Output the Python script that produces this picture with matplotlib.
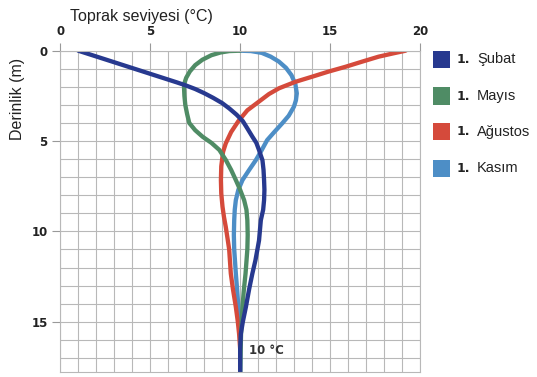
import matplotlib
matplotlib.use("Agg")
import matplotlib.pyplot as plt
from matplotlib.patches import Rectangle

plt.rcParams["font.family"] = ["Liberation Sans", "DejaVu Sans"]

# derinlik (m) ve sicaklik (C) -- resimden okunan noktalar
subat_t = [1.0, 1.5, 2.0, 2.5, 3.0, 3.5, 4.0, 4.5, 5.0, 5.5, 6.0, 6.5, 7.0, 7.5, 8.0, 8.5, 9.0, 9.4, 9.8,
           10.15, 10.4, 10.68, 10.9, 11.05, 11.15, 11.24, 11.3, 11.33, 11.35, 11.33, 11.28, 11.15, 11.05,
           10.96, 10.85, 10.68, 10.5, 10.32, 10.15, 10.04, 10.0, 10.0]
subat_d = [0.0, 0.16, 0.32, 0.48, 0.64, 0.8, 0.96, 1.12, 1.28, 1.44, 1.6, 1.76, 1.93, 2.12, 2.35, 2.61, 2.9, 3.2, 3.54,
           3.9, 4.3, 4.76, 5.1, 5.5, 5.8, 6.06, 6.6, 7.16, 7.7, 8.27, 8.8, 9.38, 10.5,
           11.0, 11.6, 12.33, 13.2, 14.18, 15.0, 15.66, 16.5, 17.9]

mayis_t = [10.0, 9.4, 8.9, 8.4, 7.9, 7.5, 7.2, 7.0, 6.9, 6.88, 6.9, 6.95, 7.05, 7.17, 7.5, 7.91,
           8.4, 8.84, 9.21, 9.5, 9.76, 10.0, 10.22, 10.35, 10.4, 10.42, 10.4, 10.3, 10.2, 10.13,
           10.05, 10.0]
mayis_d = [0.0, 0.02, 0.1, 0.25, 0.5, 0.8, 1.15, 1.5, 1.8, 2.07, 2.5, 3.0, 3.5, 4.0, 4.4, 4.76,
           5.1, 5.49, 6.06, 6.6, 7.16, 7.7, 8.27, 8.8, 9.38, 10.2, 11.0, 12.33, 13.3, 14.18,
           15.66, 17.9]

agustos_t = [19.2, 18.5, 17.7, 16.8, 15.86, 14.9, 14.0, 13.08, 12.16, 11.6, 11.0, 10.4, 9.9, 9.5, 9.2, 9.05,
             8.95, 8.93, 8.95, 9.02, 9.1, 9.2, 9.3, 9.39, 9.48, 9.6, 9.76, 9.87, 9.94, 10.0]
agustos_d = [0.0, 0.15, 0.33, 0.6, 0.89, 1.16, 1.44, 1.72, 2.08, 2.4, 2.85, 3.3, 3.9, 4.5, 5.13, 5.6,
             6.4, 7.16, 7.9, 8.64, 9.2, 9.75, 10.4, 11.0, 12.33, 13.2, 14.18, 15.0, 15.66, 16.5]

kasim_t = [10.0, 10.6, 11.2, 11.7, 12.15, 12.55, 12.85, 13.07, 13.15, 13.1, 12.99, 12.7, 12.34, 11.9, 11.5,
           11.2, 10.87, 10.5, 10.13, 9.9, 9.76, 9.7, 9.67, 9.65, 9.67, 9.76, 9.83, 9.9, 10.0, 10.0]
kasim_d = [0.0, 0.02, 0.12, 0.33, 0.6, 0.95, 1.35, 1.85, 2.36, 2.75, 3.1, 3.6, 4.02, 4.5, 4.95,
           5.5, 6.06, 6.6, 7.16, 7.7, 8.27, 8.8, 9.38, 10.2, 11.0, 12.33, 13.2, 14.18, 15.66, 17.9]

aylar = ["Şubat", "Mayıs", "Ağustos", "Kasım"]
renkler = ["#27398f", "#4f8c65", "#d54a3b", "#4d8ec6"]

fig = plt.figure(figsize=(5.37, 3.77), dpi=100)
ax = fig.add_axes([60.3 / 537, (377 - 372.3) / 377, (420 - 60.3) / 537, 321.6 / 377])

ax.set_xlim(0, 20)
ax.set_ylim(17.8, 0)
ax.set_xticks(range(0, 21, 5))
ax.set_xticks(range(0, 21), minor=True)
ax.set_yticks(range(0, 16, 5))
ax.set_yticks(range(0, 18), minor=True)
ax.xaxis.tick_top()
ax.grid(True, which="both", color="#b8b8b8", lw=0.8)
ax.set_axisbelow(True)
ax.tick_params(which="major", length=6, width=0.8, color="#999999", pad=3,
               labelsize=8.5, labelcolor="#222222")
ax.tick_params(which="minor", length=0)
for lbl in ax.get_xticklabels() + ax.get_yticklabels():
    lbl.set_fontweight("bold")
    lbl.set_family(["DejaVu Sans"])
for sp in ax.spines.values():
    sp.set_color("#b8b8b8")
    sp.set_linewidth(0.8)

# cizim sirasi: Kasim, Agustos, Mayis, Subat ustte
cizgi = dict(lw=3.1, solid_capstyle="round", solid_joinstyle="round")
ax.plot(kasim_t, kasim_d, color=renkler[3], **cizgi)
ax.plot(agustos_t, agustos_d, color=renkler[2], **cizgi)
ax.plot(mayis_t, mayis_d, color=renkler[1], **cizgi)
ax.plot(subat_t, subat_d, color=renkler[0], **cizgi)

ax.text(10.5, 16.58, "10 °C", fontsize=8.5, fontweight="bold", color="#333333",
        va="center", ha="left", family=["DejaVu Sans"])

fig.text(70 / 537, 1 - 17 / 377, "Toprak seviyesi (°C)", fontsize=11.5,
         color="#222222", va="center", ha="left")
fig.text(18 / 537, 1 - 99 / 377, "Derinlik (m)", fontsize=11.5, rotation=90,
         color="#222222", va="center", ha="center")

# lejant
leg_y = [59.5, 96, 131.7, 168]
for ay, renk, yy in zip(aylar, renkler, leg_y):
    fig.patches.append(Rectangle((433 / 537, 1 - (yy + 8.5) / 377), 17 / 537, 17 / 377,
                                 transform=fig.transFigure, facecolor=renk,
                                 edgecolor="none", figure=fig))
    fig.text(457 / 537, 1 - yy / 377, "1.", fontsize=9, fontweight="bold",
             color="#222222", va="center", ha="left", family=["DejaVu Sans"])
    fig.text(477 / 537, 1 - yy / 377, ay, fontsize=10.5, color="#222222",
             va="center", ha="left")

fig.savefig("out.png", dpi=100)
